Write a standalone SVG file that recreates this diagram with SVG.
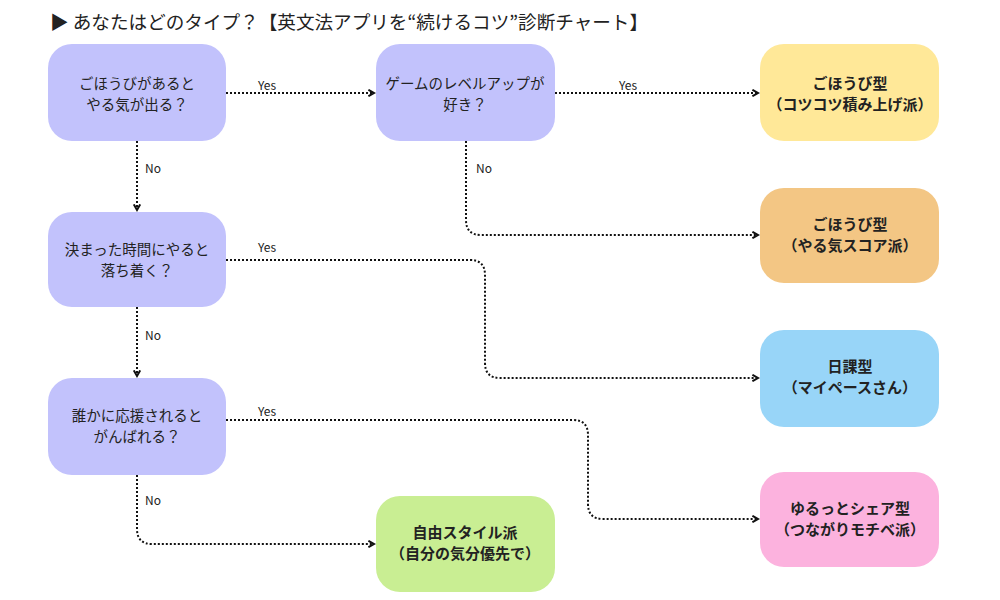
<svg xmlns="http://www.w3.org/2000/svg" width="1000" height="600" viewBox="0 0 1000 600">
<style>
text{font-family:"Noto Sans CJK JP","Noto Sans",sans-serif;fill:#222}
.title{font-size:18.6px}
.q{fill:#c2c2fc}
.qt{font-size:14.5px;text-anchor:middle}
.rt{font-size:15px;font-weight:bold;text-anchor:middle}
.lbl{font-size:12px}
.c{fill:none;stroke:#111;stroke-width:2;stroke-dasharray:2 2}
</style>
<defs>
<marker id="ah" viewBox="0 0 10 10" refX="8" refY="5" markerWidth="4" markerHeight="4" orient="auto" markerUnits="strokeWidth">
<path d="M1,1 L8,5 L1,9" fill="none" stroke="#111" stroke-width="2.5"/>
</marker>
</defs>
<rect width="1000" height="600" fill="#fff"/>
<text class="title" x="50" y="29">▶ あなたはどのタイプ？【英文法アプリを“続けるコツ”診断チャート】</text>

<g id="connectors">
<path class="c" d="M226,93 H374" marker-end="url(#ah)"/>
<path class="c" d="M555,93 H758" marker-end="url(#ah)"/>
<path class="c" d="M466,141 V220 Q466,235 481,235 H758" marker-end="url(#ah)"/>
<path class="c" d="M137,141 V210" marker-end="url(#ah)"/>
<path class="c" d="M226,260 H470 Q485,260 485,275 V363 Q485,378 500,378 H758" marker-end="url(#ah)"/>
<path class="c" d="M137,307 V376" marker-end="url(#ah)"/>
<path class="c" d="M226,420 H573 Q588,420 588,435 V504 Q588,519 603,519 H758" marker-end="url(#ah)"/>
<path class="c" d="M137,475 V529 Q137,544 152,544 H374" marker-end="url(#ah)"/>
<text class="lbl" x="258" y="90">Yes</text>
<text class="lbl" x="619" y="90">Yes</text>
<text class="lbl" x="476" y="173">No</text>
<text class="lbl" x="145" y="173">No</text>
<text class="lbl" x="258" y="252">Yes</text>
<text class="lbl" x="145" y="340">No</text>
<text class="lbl" x="258" y="416">Yes</text>
<text class="lbl" x="145" y="505">No</text>
</g>

<g id="q1"><rect class="q" x="48" y="44" width="178" height="97" rx="24"/>
<text class="qt" x="137" y="88.5">ごほうびがあると</text><text class="qt" x="137" y="109.5">やる気が出る？</text></g>
<g id="q2"><rect class="q" x="376" y="44" width="179" height="97" rx="24"/>
<text class="qt" x="465" y="88.5">ゲームのレベルアップが</text><text class="qt" x="465" y="109.5">好き？</text></g>
<g id="q3"><rect class="q" x="48" y="212" width="178" height="95" rx="24"/>
<text class="qt" x="137" y="254.5">決まった時間にやると</text><text class="qt" x="137" y="275.5">落ち着く？</text></g>
<g id="q4"><rect class="q" x="48" y="378" width="178" height="97" rx="24"/>
<text class="qt" x="137" y="420.5">誰かに応援されると</text><text class="qt" x="137" y="441.5">がんばれる？</text></g>

<g id="r1"><rect x="760" y="44" width="179" height="97" rx="24" fill="#ffe898"/>
<text class="rt" x="850" y="88.5">ごほうび型</text><text class="rt" x="850" y="110">（コツコツ積み上げ派）</text></g>
<g id="r2"><rect x="760" y="188" width="179" height="95" rx="24" fill="#f3c684"/>
<text class="rt" x="850" y="229.5">ごほうび型</text><text class="rt" x="850" y="251">（やる気スコア派）</text></g>
<g id="r3"><rect x="760" y="330" width="179" height="97" rx="24" fill="#98d5f8"/>
<text class="rt" x="850" y="371.5">日課型</text><text class="rt" x="850" y="393">（マイペースさん）</text></g>
<g id="r4"><rect x="760" y="472" width="179" height="95" rx="24" fill="#fcb2de"/>
<text class="rt" x="850" y="513.5">ゆるっとシェア型</text><text class="rt" x="850" y="535">（つながりモチベ派）</text></g>
<g id="r5"><rect x="376" y="496" width="179" height="96" rx="24" fill="#c9ee93"/>
<text class="rt" x="465" y="537.5">自由スタイル派</text><text class="rt" x="465" y="559">（自分の気分優先で）</text></g>
</svg>
